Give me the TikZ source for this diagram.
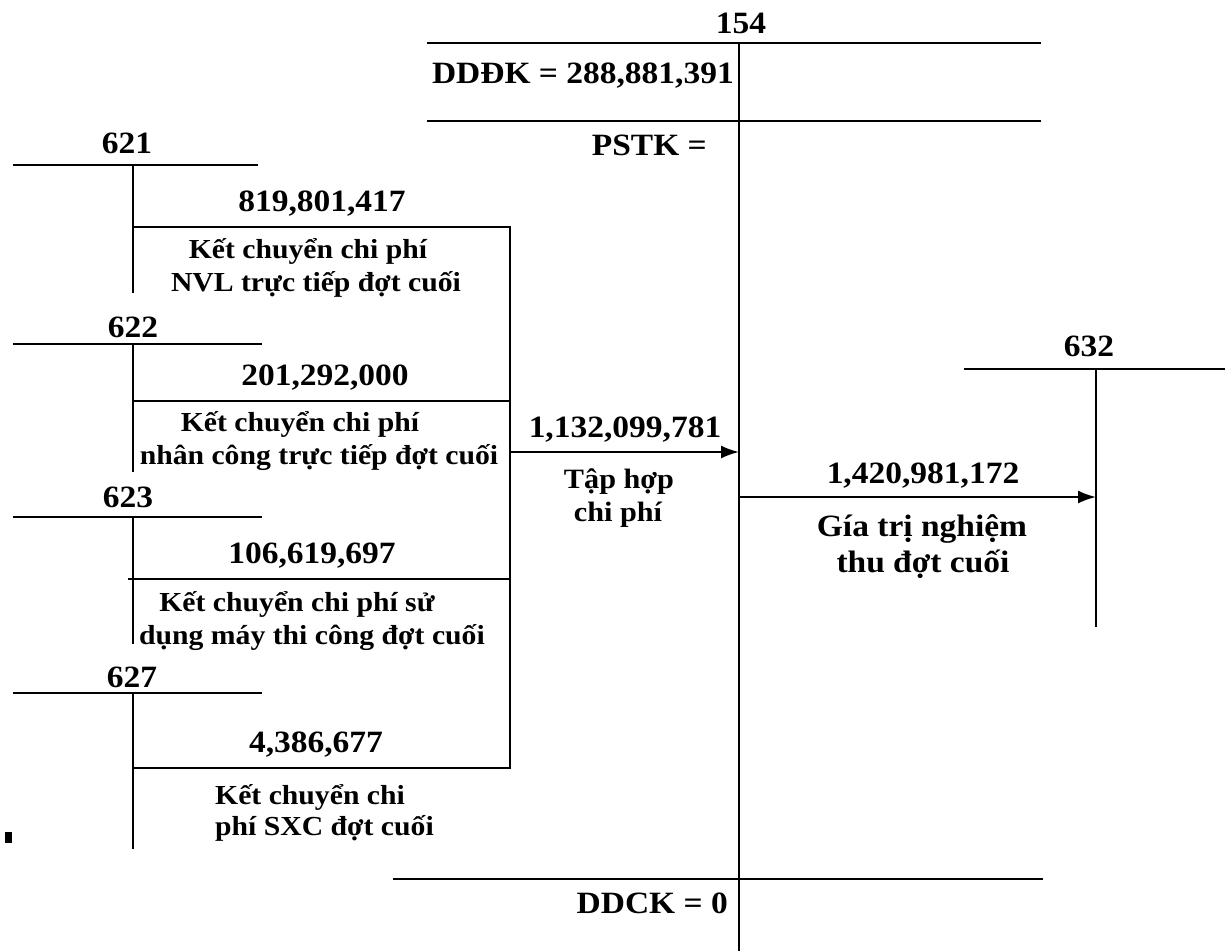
\documentclass[tikz,border=0pt]{standalone}
\usepackage{fontspec}
\setmainfont{Liberation Serif}[FakeStretch=1.08]
\usetikzlibrary{arrows.meta}
\begin{document}
\begin{tikzpicture}[x=1pt,y=-1pt,
  acc/.style={line width=2pt},
  num/.style={font=\fontsize{31}{36}\selectfont\bfseries, inner sep=0pt, anchor=base},
  desc/.style={font=\fontsize{27.5}{33}\selectfont\bfseries, inner sep=0pt, anchor=base},
  big/.style={font=\fontsize{31}{36}\selectfont\bfseries, inner sep=0pt, anchor=base},
  mid/.style={font=\fontsize{28}{33}\selectfont\bfseries, inner sep=0pt, anchor=base},
  flow/.style={line width=2pt,-{Latex[length=18pt,width=13pt]}}]
\useasboundingbox (0,0) rectangle (1225,951);

% ---- account 154 ----
\draw[acc] (427,43) -- (1041,43);
\draw[acc] (427,121) -- (1041,121);
\draw[acc] (393,879) -- (1043,879);
\draw[acc] (739,43) -- (739,951);
\node[num] (t154) at (741,33) {154};
\node[num,anchor=base east] (dddk) at (734,83) {DDĐK = 288,881,391};
\node[num,anchor=base east] (pstk) at (707,155) {PSTK =};
\node[num,anchor=base east] (ddck) at (728,913) {DDCK = 0};

% ---- account 621 ----
\draw[acc] (13,165) -- (258,165);
\draw[acc] (133,165) -- (133,293);
\node[num] (t621) at (127,153) {621};
\node[num] (v621) at (322,211) {819,801,417};
\draw[acc] (133,227) -- (510,227) -- (510,768) -- (133,768);
\node[desc] (d621a) at (308,258) {Kết chuyển chi phí};
\node[desc] (d621b) at (316,291) {NVL trực tiếp đợt cuối};

% ---- account 622 ----
\draw[acc] (13,344) -- (262,344);
\draw[acc] (133,344) -- (133,472);
\node[num] (t622) at (133,337) {622};
\node[num] (v622) at (325,385) {201,292,000};
\draw[acc] (133,401) -- (510,401);
\node[desc] (d622a) at (300,431) {Kết chuyển chi phí};
\node[desc] (d622b) at (319,464) {nhân công trực tiếp đợt cuối};

% ---- account 623 ----
\draw[acc] (13,517) -- (262,517);
\draw[acc] (133,517) -- (133,644);
\node[num] (t623) at (128,507) {623};
\node[num] (v623) at (312,563) {106,619,697};
\draw[acc] (128,579) -- (510,579);
\node[desc] (d623a) at (297,611) {Kết chuyển chi phí sử};
\node[desc] (d623b) at (312,644) {dụng máy thi công đợt cuối};

% ---- account 627 ----
\draw[acc] (13,693) -- (262,693);
\draw[acc] (133,693) -- (133,849);
\node[num] (t627) at (132,687) {627};
\node[num] (v627) at (316,752) {4,386,677};
\node[desc,anchor=base west] (d627a) at (215,804) {Kết chuyển chi};
\node[desc,anchor=base west] (d627b) at (215,835) {phí SXC đợt cuối};

\fill (5,832) rectangle (12,843);

% ---- account 632 ----
\draw[acc] (964,369) -- (1225,369);
\draw[acc] (1096,369) -- (1096,627);
\node[num] (t632) at (1089,356) {632};

% ---- flows ----
\coordinate (f1s) at (510,452);
\coordinate (f1e) at (739,452);
\draw[flow] (f1s) -- (f1e);
\node[num] (v1) at (625,437) {1,132,099,781};
\node[mid] (l1a) at (619,488) {Tập hợp};
\node[mid] (l1b) at (618,521) {chi phí};

\coordinate (f2s) at (739,497);
\coordinate (f2e) at (1096,497);
\draw[flow] (f2s) -- (f2e);
\node[num] (v2) at (923,483) {1,420,981,172};
\node[big] (l2a) at (922,536) {Gía trị nghiệm};
\node[big] (l2b) at (923,572) {thu đợt cuối};
\end{tikzpicture}
\end{document}
